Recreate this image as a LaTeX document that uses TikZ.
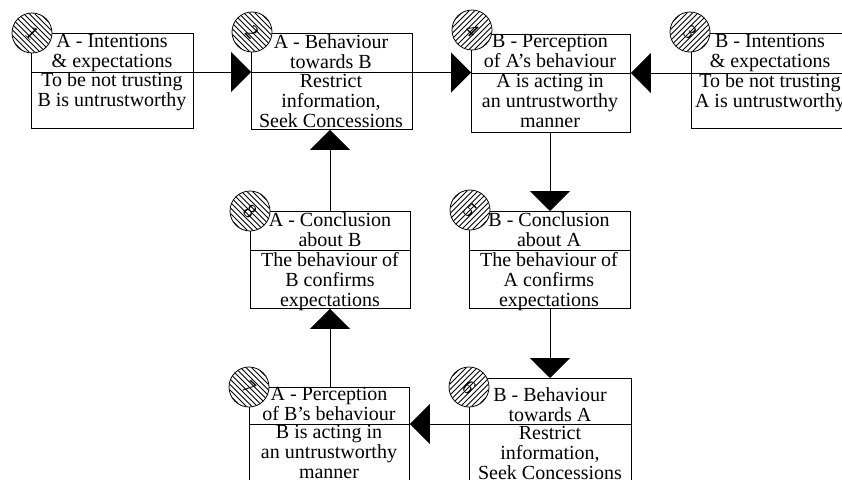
\documentclass[tikz,border=0pt]{standalone}
\usepackage{fontspec}
\setmainfont{Liberation Serif}
\usetikzlibrary{arrows.meta}
\begin{document}
\begin{tikzpicture}[x=1pt,y=-1pt,
  box/.style={draw, line width=0.9pt, inner sep=0pt, anchor=north west},
  txt/.style={align=center, inner sep=0pt, anchor=north, font=\fontsize{20}{20}\selectfont, execute at begin node=\strut},
  conn/.style={line width=0.9pt, -{Triangle[length=20pt,width=40pt]}},
  divline/.style={line width=0.9pt},
  numc/.style={circle, minimum size=40pt, inner sep=0pt, fill=white},
  hatchline/.style={line width=0.75pt},
  circline/.style={line width=0.8pt},
  digit/.style={inner sep=0pt, font=\fontsize{20}{20}\selectfont},
]
\newcommand\hatchnum[4]{%
  \node[numc] (#1) at (#2) {};
  \begin{scope}
    \clip (#1.center) circle (19.6);
    \foreach \k in {-38.5,-33,...,38.5} {
      \draw[hatchline, shift={(#1.center)}] ({\k-25}, {-25*(#3)}) -- ++({50}, {50*(#3)});
    }
  \end{scope}
  \node[digit] (#1d) at (#1.center) {\rotatebox{-45}{#4}};
  \draw[circline] (#1.center) circle (20);
}
\useasboundingbox (0,0) rectangle (842,479);
\clip (0,0) rectangle (842,479);
\fill[white] (0,0) rectangle (842,479);

% boxes
\node[box, minimum width=162pt, minimum height=95pt] (b1) at (31,33) {};
\node[box, minimum width=161pt, minimum height=96pt] (b2) at (251,33) {};
\node[box, minimum width=159pt, minimum height=98pt] (b4) at (471,34) {};
\node[box, minimum width=162pt, minimum height=95pt] (b3) at (691,33) {};
\node[box, minimum width=160pt, minimum height=97pt] (b8) at (250,211) {};
\node[box, minimum width=161pt, minimum height=97pt] (b5) at (469,211) {};
\node[box, minimum width=160pt, minimum height=110pt] (b7) at (249,387) {};
\node[box, minimum width=162pt, minimum height=120pt] (b6) at (469,378) {};

% dividers
\draw[divline] (b1.west |- 0,72) -- (b1.east |- 0,72);
\draw[divline] (b2.west |- 0,72) -- (b2.east |- 0,72);
\draw[divline] (b4.west |- 0,73) -- (b4.east |- 0,73);
\draw[divline] (b3.west |- 0,73) -- (b3.east |- 0,73);
\draw[divline] (b8.west |- 0,250) -- (b8.east |- 0,250);
\draw[divline] (b5.west |- 0,250) -- (b5.east |- 0,250);
\draw[divline] (b7.west |- 0,424) -- (b7.east |- 0,424);
\draw[divline] (b6.west |- 0,424) -- (b6.east |- 0,424);

% connectors
\draw[conn] (b1.east |- 0,72) -- (b2.west |- 0,72);
\draw[conn] (b2.east |- 0,72.5) -- (b4.west |- 0,72.5);
\draw[conn] (b3.west |- 0,73) -- (b4.east |- 0,73);
\draw[conn] (b4.south -| 550,0) -- (b5.north -| 550,0);
\draw[conn] (b5.south -| 550,0) -- (b6.north -| 550,0);
\draw[conn] (b6.west |- 0,424) -- (b7.east |- 0,424);
\draw[conn] (b7.north -| 330,0) -- (b8.south -| 330,0);
\draw[conn] (b8.north -| 330,0) -- (b2.south -| 330,0);

% texts
\node[txt] (t1) at (112,34) {A - Intentions\\\& expectations};
\node[txt] (s1) at (112,72) {To be not trusting\\B is untrustworthy};
\node[txt] (t2) at (331,34) {A - Behaviour\\towards B};
\node[txt] (s2) at (331,74) {Restrict\\information,\\Seek Concessions};
\node[txt] (t4) at (550,34) {B - Perception\\of A’s behaviour};
\node[txt] (s4) at (550,74) {A is acting in\\an untrustworthy\\manner};
\node[txt] (t3) at (770,34) {B - Intentions\\\& expectations};
\node[txt] (s3) at (770,73) {To be not trusting\\A is untrustworthy};
\node[txt] (t8) at (330,212) {A - Conclusion\\about B};
\node[txt] (s8) at (330,252) {The behaviour of\\B confirms\\expectations};
\node[txt] (t5) at (549,212) {B - Conclusion\\about A};
\node[txt] (s5) at (549,252) {The behaviour of\\A confirms\\expectations};
\node[txt] (t7) at (329,387) {A - Perception\\of B’s behaviour};
\node[txt] (s7) at (329,425) {B is acting in\\an untrustworthy\\manner};
\node[txt] (t6) at (550,387) {B - Behaviour\\towards A};
\node[txt] (s6) at (550,426) {Restrict\\information,\\Seek Concessions};

% numbered circles
\hatchnum{c1}{32,33}{1}{1}
\hatchnum{c2}{252,32}{1}{2}
\hatchnum{c4}{472,30}{-1}{4}
\hatchnum{c3}{690,32}{-1}{3}
\hatchnum{c8}{250,211}{1}{8}
\hatchnum{c5}{470,210}{-1}{5}
\hatchnum{c7}{249,387}{1}{7}
\hatchnum{c6}{469,387}{-1}{6}
\end{tikzpicture}
\end{document}
